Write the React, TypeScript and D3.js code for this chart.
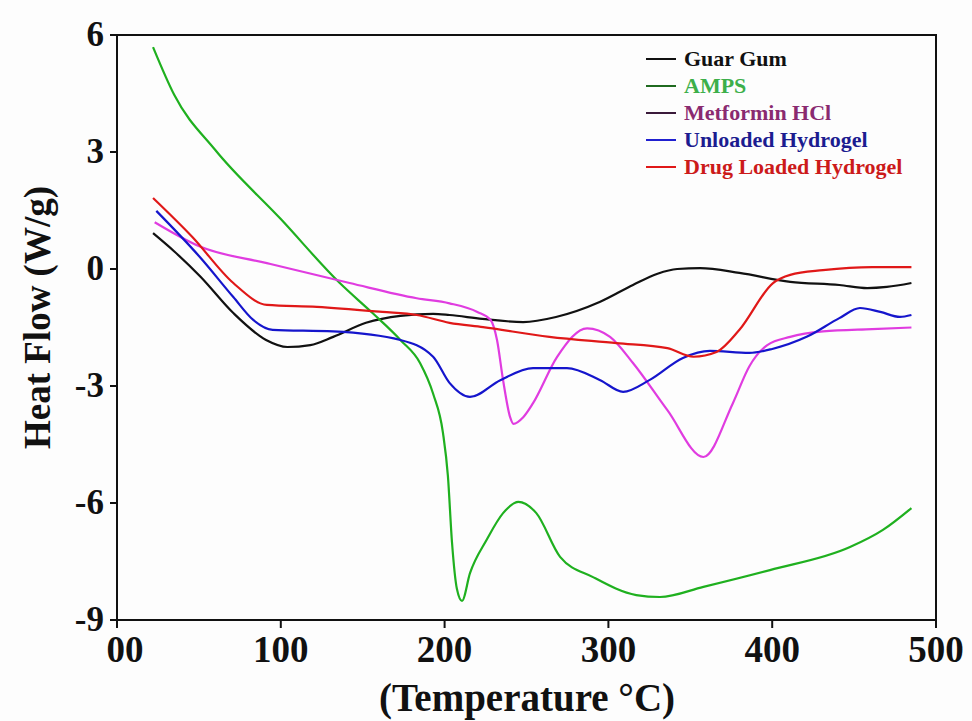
import React from "react";
import * as d3 from "d3";

// DSC curves: temperature (°C) vs heat flow (W/g)
const guarT = [22, 35, 51, 71, 91, 104, 118, 132, 152, 173, 193, 203, 223, 248, 268, 295, 315, 330, 342, 356, 380, 411, 441, 458, 470, 485];
const guarV = [0.92, 0.45, -0.2, -1.13, -1.82, -2.0, -1.95, -1.74, -1.38, -1.2, -1.15, -1.18, -1.28, -1.36, -1.23, -0.84, -0.41, -0.12, 0.0, 0.02, -0.1, -0.33, -0.41, -0.49, -0.46, -0.36];

const ampsT = [22, 35, 60, 100, 136, 156, 173, 185, 193, 199, 202, 204.5, 207.5, 210.6, 215.5, 225.6, 235.7, 245, 256, 270.5, 290.6, 317, 331.5, 358, 398.6, 447.5, 467.6, 485];
const ampsV = [5.69, 4.46, 3.05, 1.28, -0.36, -1.13, -1.82, -2.41, -3.2, -4.2, -5.3, -7.0, -8.2, -8.51, -7.8, -6.95, -6.26, -5.97, -6.26, -7.38, -7.9, -8.36, -8.41, -8.15, -7.72, -7.13, -6.69, -6.13];

const metT = [23, 51, 91.5, 142, 183, 203, 220, 228, 232, 235.7, 240, 242, 248, 254, 268.6, 287, 301, 315, 336, 358, 376, 386, 397, 411, 431, 461, 485];
const metV = [1.2, 0.57, 0.15, -0.36, -0.75, -0.88, -1.1, -1.3, -1.82, -2.85, -3.8, -3.97, -3.8, -3.44, -2.26, -1.52, -1.74, -2.41, -3.62, -4.82, -3.44, -2.5, -1.95, -1.74, -1.6, -1.54, -1.5];

const unlT = [24, 50.7, 71, 83, 95, 132, 173, 193, 203, 215.5, 234, 254, 274.7, 295, 309, 325, 345.5, 362, 386, 400, 421, 441, 453.6, 466, 478, 485];
const unlV = [1.49, 0.3, -0.72, -1.3, -1.56, -1.6, -1.82, -2.25, -2.92, -3.28, -2.85, -2.54, -2.54, -2.85, -3.15, -2.85, -2.28, -2.1, -2.15, -2.05, -1.74, -1.26, -1.0, -1.1, -1.23, -1.18];

const drugT = [22, 46, 71, 91.5, 122, 162, 183, 203, 223.5, 264, 305, 336, 352, 366, 380, 400.5, 411, 431, 461, 485];
const drugV = [1.82, 0.82, -0.36, -0.92, -0.97, -1.1, -1.18, -1.38, -1.49, -1.74, -1.9, -2.03, -2.25, -2.13, -1.56, -0.36, -0.15, -0.03, 0.05, 0.05];

const seriesNames = ["Guar Gum", "AMPS", "Metformin HCl", "Unloaded Hydrogel", "Drug Loaded Hydrogel"];
const xTicks = [0, 100, 200, 300, 400, 500];
const xTickLabels = ["00", "100", "200", "300", "400", "500"];
const yTicks = [6, 3, 0, -3, -6, -9];

const lineColors = ["#111111", "#1fb01f", "#e03ce0", "#1515cc", "#e01818"];
const legendLineColors = ["#111111", "#1f6a1f", "#3a1a3a", "#2020d0", "#e01818"];
const textColors = ["#111111", "#3caf4a", "#8a2a70", "#1c1c90", "#cc1a1a"];

const FONT = "'Liberation Serif', 'Times New Roman', serif";

export default function App() {
  const W = 972;
  const H = 721;
  const x = d3.scaleLinear().domain([0, 500]).range([117, 936]);
  const y = d3.scaleLinear().domain([-9, 6]).range([620, 35]);

  const series = [
    [guarT, guarV],
    [ampsT, ampsV],
    [metT, metV],
    [unlT, unlV],
    [drugT, drugV],
  ].map(([t, v]) => t.map((tt, i) => [tt, v[i]] as [number, number]));

  const line = d3
    .line<[number, number]>()
    .x((d) => x(d[0]))
    .y((d) => y(d[1]))
    .curve(d3.curveMonotoneX);

  const [x0, x1] = x.range();
  const [yb, yt] = y.range();

  return (
    <div style={{ position: "absolute", left: 0, top: 0 }}>
      <svg width={W} height={H} style={{ display: "block", background: "#fdfdfd" }}>
        {series.map((s, i) => (
          <path key={i} d={line(s) || ""} fill="none" stroke={lineColors[i]} strokeWidth={2.2} />
        ))}

        <rect x={x0} y={yt} width={x1 - x0} height={yb - yt} fill="none" stroke="#111" strokeWidth={2} />

        {yTicks.map((t) => (
          <g key={t}>
            <line x1={x0 - 7} x2={x0} y1={y(t)} y2={y(t)} stroke="#111" strokeWidth={2} />
            <text
              x={x0 - 13}
              y={y(t)}
              dy="0.3em"
              textAnchor="end"
              fontFamily={FONT}
              fontWeight="bold"
              fontSize={35}
              fill="#111"
            >
              {t}
            </text>
          </g>
        ))}

        {xTicks.map((t, i) => (
          <g key={t}>
            <line x1={x(t)} x2={x(t)} y1={yb} y2={yb + 8} stroke="#111" strokeWidth={2} />
            <text
              x={x(t) + (i === 0 ? 8 : 0)}
              y={yb + 42}
              textAnchor="middle"
              fontFamily={FONT}
              fontWeight="bold"
              fontSize={37}
              fill="#111"
            >
              {xTickLabels[i]}
            </text>
          </g>
        ))}

        <text
          x={527}
          y={711}
          textAnchor="middle"
          fontFamily={FONT}
          fontWeight="bold"
          fontSize={39}
          fill="#111"
        >
          (Temperature °C)
        </text>
        <text
          transform={`translate(50, ${(yt + yb) / 2 - 10}) rotate(-90)`}
          textAnchor="middle"
          fontFamily={FONT}
          fontWeight="bold"
          fontSize={37}
          fill="#111"
        >
          Heat Flow (W/g)
        </text>

        {seriesNames.map((n, i) => {
          const ly = 59 + i * 27;
          return (
            <g key={n}>
              <line x1={646} x2={676} y1={ly} y2={ly} stroke={legendLineColors[i]} strokeWidth={2} />
              <text
                x={684}
                y={ly}
                dy="0.33em"
                fontFamily={FONT}
                fontWeight="bold"
                fontSize={22}
                fill={textColors[i]}
              >
                {n}
              </text>
            </g>
          );
        })}
      </svg>
    </div>
  );
}
